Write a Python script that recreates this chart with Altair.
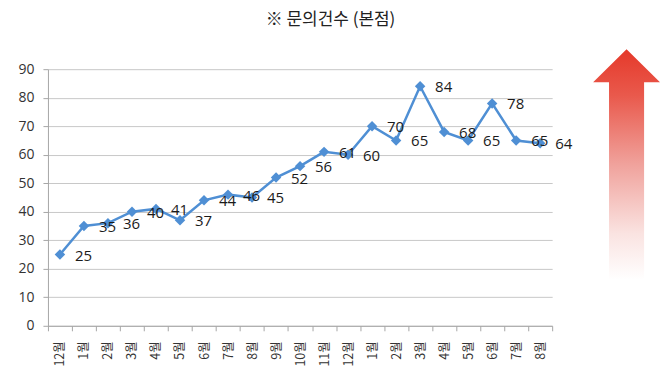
import altair as alt
import pandas as pd

months = ["12월", "1월", "2월", "3월", "4월", "5월", "6월", "7월", "8월", "9월", "10월", "11월",
          "12월", "1월", "2월", "3월", "4월", "5월", "6월", "7월", "8월"]
values = [25, 35, 36, 40, 41, 37, 44, 46, 45, 52, 56, 61, 60, 70, 65, 84, 68, 65, 78, 65, 64]
title_text = "※ 문의건수 (본점)"
y_ticks = [0, 10, 20, 30, 40, 50, 60, 70, 80, 90]

df = pd.DataFrame({"idx": list(range(len(values))), "value": values})

label_expr = "[" + ",".join("'" + m + "'" for m in months) + "][datum.value]"

KFONT = "Noto Sans CJK KR"
NFONT = "Open Sans"
LINE = "#4F8FD4"

base = alt.Chart(df)

x = alt.X(
    "idx:O",
    scale=alt.Scale(paddingInner=0, paddingOuter=0),
    axis=alt.Axis(
        title=None, labelAngle=270, labelExpr=label_expr, tickBand="extent",
        labelFont=KFONT, labelFontSize=12.5, labelColor="#333333", labelPadding=10,
        domainColor="#A6A6A6", tickColor="#A6A6A6", tickSize=5, grid=False,
    ),
)
y = alt.Y(
    "value:Q",
    scale=alt.Scale(domain=[0, 90], nice=False),
    axis=alt.Axis(
        title=None, values=y_ticks, labelFont=NFONT, labelFontSize=14, labelColor="#333333",
        labelPadding=9, domainColor="#A6A6A6", tickColor="#A6A6A6", tickSize=5,
        grid=True, gridColor="#C8C8C8", gridWidth=1,
    ),
)

line = base.mark_line(color=LINE, strokeWidth=2.5).encode(x=x, y=y)
pts = base.mark_point(shape="diamond", filled=True, size=110, color=LINE, opacity=1).encode(x=x, y=y)
labels = base.mark_text(align="left", baseline="middle", dx=15, dy=1, fontSize=15, font=NFONT,
                        color="#1a1a1a").encode(x=x, y=y, text="value:Q")

one = alt.Data(values=[{"k": 1}])

title = alt.Chart(one).mark_text(
    text=title_text, font=KFONT, fontSize=17, align="center", baseline="middle", color="#222222"
).encode(x=alt.value(283), y=alt.value(-49))

arrow_path = ("M0,-1 L0.29,-0.714 L0.152,-0.714 L0.152,1 L-0.152,1 "
              "L-0.152,-0.714 L-0.29,-0.714 Z")
grad = alt.Gradient(
    gradient="linear", x1=0, y1=0, x2=0, y2=1,
    stops=[
        alt.GradientStop(offset=0, color="#E5392A"),
        alt.GradientStop(offset=0.2, color="#E9594C"),
        alt.GradientStop(offset=0.5, color="#F0A29C"),
        alt.GradientStop(offset=0.8, color="#FAE3E1"),
        alt.GradientStop(offset=1, color="#FFFFFF"),
    ],
)
arrow = alt.Chart(one).mark_point(
    shape=arrow_path, size=231 * 231, filled=True, fill=grad, strokeWidth=0, opacity=1
).encode(x=alt.value(579.5), y=alt.value(95.5))

chart = alt.layer(line, pts, labels, title, arrow).properties(
    width=505, height=257,
    autosize=alt.AutoSizeParams(type="none"),
    padding={"left": 40, "top": 61, "right": 110, "bottom": 46},
).configure_view(stroke=None)

chart.save("out.html", embed_options={"renderer": "svg", "actions": False})
